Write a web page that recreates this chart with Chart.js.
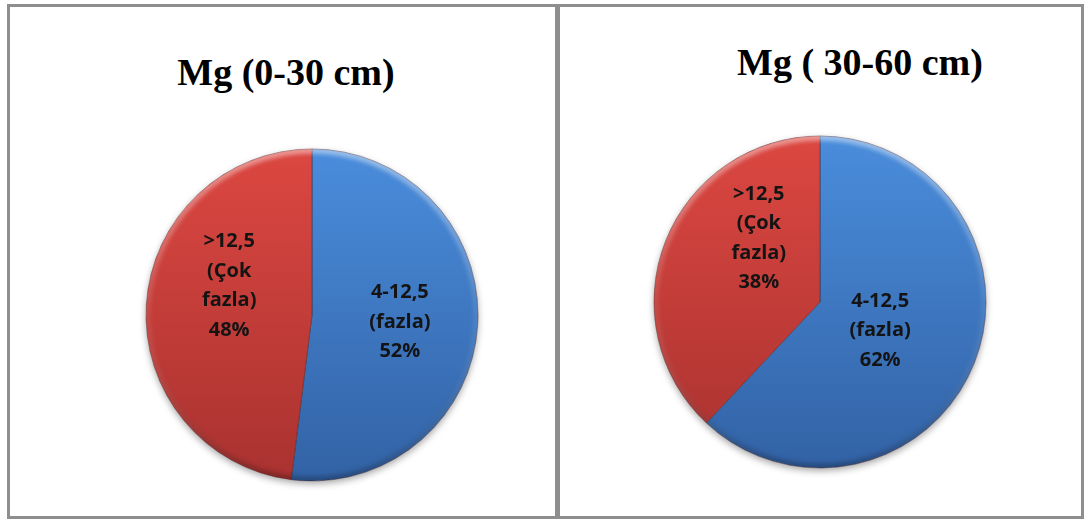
<!DOCTYPE html>
<html>
<head>
<meta charset="utf-8">
<script src="https://cdn.jsdelivr.net/npm/chart.js@4/dist/chart.umd.min.js"></script>
<style>
  html, body { margin: 0; padding: 0; background: #fff; }
  body { width: 1089px; height: 521px; position: relative; overflow: hidden; }
  .frame { position: absolute; left: 7px; top: 4px; width: 1077px; height: 515px;
           box-sizing: border-box; border: 3px solid #8e8e8e; }
  .divider { position: absolute; left: 555px; top: 4px; width: 5px; height: 515px; background: #8e8e8e; }
  .title { position: absolute; width: 400px; text-align: center; white-space: pre;
           font: bold 38px "Liberation Serif", "Times New Roman", serif; line-height: 38px; color: #000; }
  canvas { position: absolute; }
</style>
</head>
<body>
<div class="frame"></div>
<div class="divider"></div>
<div class="title" id="title1" style="left:86px; top:53px;"></div>
<div class="title" id="title2" style="left:660px; top:43px;"></div>
<canvas id="pie1" width="360" height="360" style="left:132px; top:135px;"></canvas>
<canvas id="pie2" width="360" height="360" style="left:640px; top:122px;"></canvas>
<script>
const titles = ["Mg (0-30 cm)", "Mg ( 30-60 cm)"];
const categories = ["4-12,5 (fazla)", ">12,5 (Çok fazla)"];
const categoryLines = [["4-12,5", "(fazla)"], [">12,5", "(Çok", "fazla)"]];
const shares0to30 = [52, 48];
const shares30to60 = [62, 38];

const PIE_RADIUS = 166;
// top / bottom colours of each slice's vertical gradient
const sliceColors = [["#4a8ddc", "#3262a5"], ["#dc4741", "#a93230"]];

function sliceFill(c) {
  const pair = sliceColors[c.dataIndex % sliceColors.length];
  const area = c.chart.chartArea;
  if (!area) return pair[0];
  const cy = (area.top + area.bottom) / 2;
  const g = c.chart.ctx.createLinearGradient(0, cy - PIE_RADIUS, 0, cy + PIE_RADIUS);
  g.addColorStop(0, pair[0]);
  g.addColorStop(1, pair[1]);
  return g;
}

// soft drop shadow under the pie and a rounded rim
const bevel = {
  id: "bevel",
  beforeDatasetsDraw(chart) {
    const arc = chart.getDatasetMeta(0).data[0];
    const { x, y, outerRadius } = arc.getProps(["x", "y", "outerRadius"], true);
    const ctx = chart.ctx;
    ctx.save();
    ctx.shadowColor = "rgba(0,0,0,0.35)";
    ctx.shadowBlur = 7;
    ctx.shadowOffsetY = 3;
    ctx.beginPath();
    ctx.arc(x, y, outerRadius, 0, Math.PI * 2);
    ctx.fillStyle = "#fff";
    ctx.fill();
    ctx.restore();
  },
  afterDatasetsDraw(chart) {
    const arc = chart.getDatasetMeta(0).data[0];
    const { x, y, outerRadius } = arc.getProps(["x", "y", "outerRadius"], true);
    const ctx = chart.ctx;
    ctx.save();
    ctx.beginPath();
    ctx.arc(x, y, outerRadius, 0, Math.PI * 2);
    ctx.clip();
    const g = ctx.createLinearGradient(0, y - outerRadius, 0, y + outerRadius);
    g.addColorStop(0, "rgba(255,255,255,0.45)");
    g.addColorStop(0.5, "rgba(255,255,255,0.08)");
    g.addColorStop(1, "rgba(0,0,0,0.25)");
    ctx.filter = "blur(2px)";
    ctx.strokeStyle = g;
    ctx.lineWidth = 7;
    ctx.beginPath();
    ctx.arc(x, y, outerRadius - 1, 0, Math.PI * 2);
    ctx.stroke();
    ctx.restore();
  }
};

// multi-line labels: category lines plus the percentage
function sliceLabels(nudges) {
  return {
    id: "sliceLabels",
    afterDatasetsDraw(chart) {
      const ctx = chart.ctx;
      const values = chart.data.datasets[0].data;
      ctx.save();
      ctx.font = "bold 20px 'Open Sans', sans-serif";
      ctx.fillStyle = "#141414";
      ctx.textAlign = "center";
      ctx.textBaseline = "middle";
      chart.getDatasetMeta(0).data.forEach((arc, i) => {
        const p = arc.getProps(["x", "y", "startAngle", "endAngle", "outerRadius"], true);
        const mid = (p.startAngle + p.endAngle) / 2;
        const cx = p.x + Math.cos(mid) * p.outerRadius * 0.5 + nudges[i][0];
        const cy = p.y + Math.sin(mid) * p.outerRadius * 0.5 + nudges[i][1];
        const lines = categoryLines[i].concat([values[i] + "%"]);
        const lh = 29.5;
        const top = cy - (lines.length - 1) * lh / 2;
        lines.forEach((t, k) => ctx.fillText(t, cx, top + k * lh));
      });
      ctx.restore();
    }
  };
}

function drawPie(id, values, nudges) {
  return new Chart(document.getElementById(id), {
    type: "pie",
    data: {
      labels: categories,
      datasets: [{
        data: values,
        backgroundColor: sliceFill,
        borderColor: "rgba(70,30,30,0.45)",
        borderWidth: 1,
        hoverOffset: 0
      }]
    },
    options: {
      responsive: false,
      animation: false,
      radius: PIE_RADIUS,
      plugins: {
        legend: { display: false },
        tooltip: { enabled: false }
      }
    },
    plugins: [bevel, sliceLabels(nudges)]
  });
}

document.getElementById("title1").textContent = titles[0];
document.getElementById("title2").textContent = titles[1];
drawPie("pie1", shares0to30, [[5, 2], [0, -24]]);
drawPie("pie2", shares30to60, [[-17, -2], [16, -33]]);
</script>
</body>
</html>
